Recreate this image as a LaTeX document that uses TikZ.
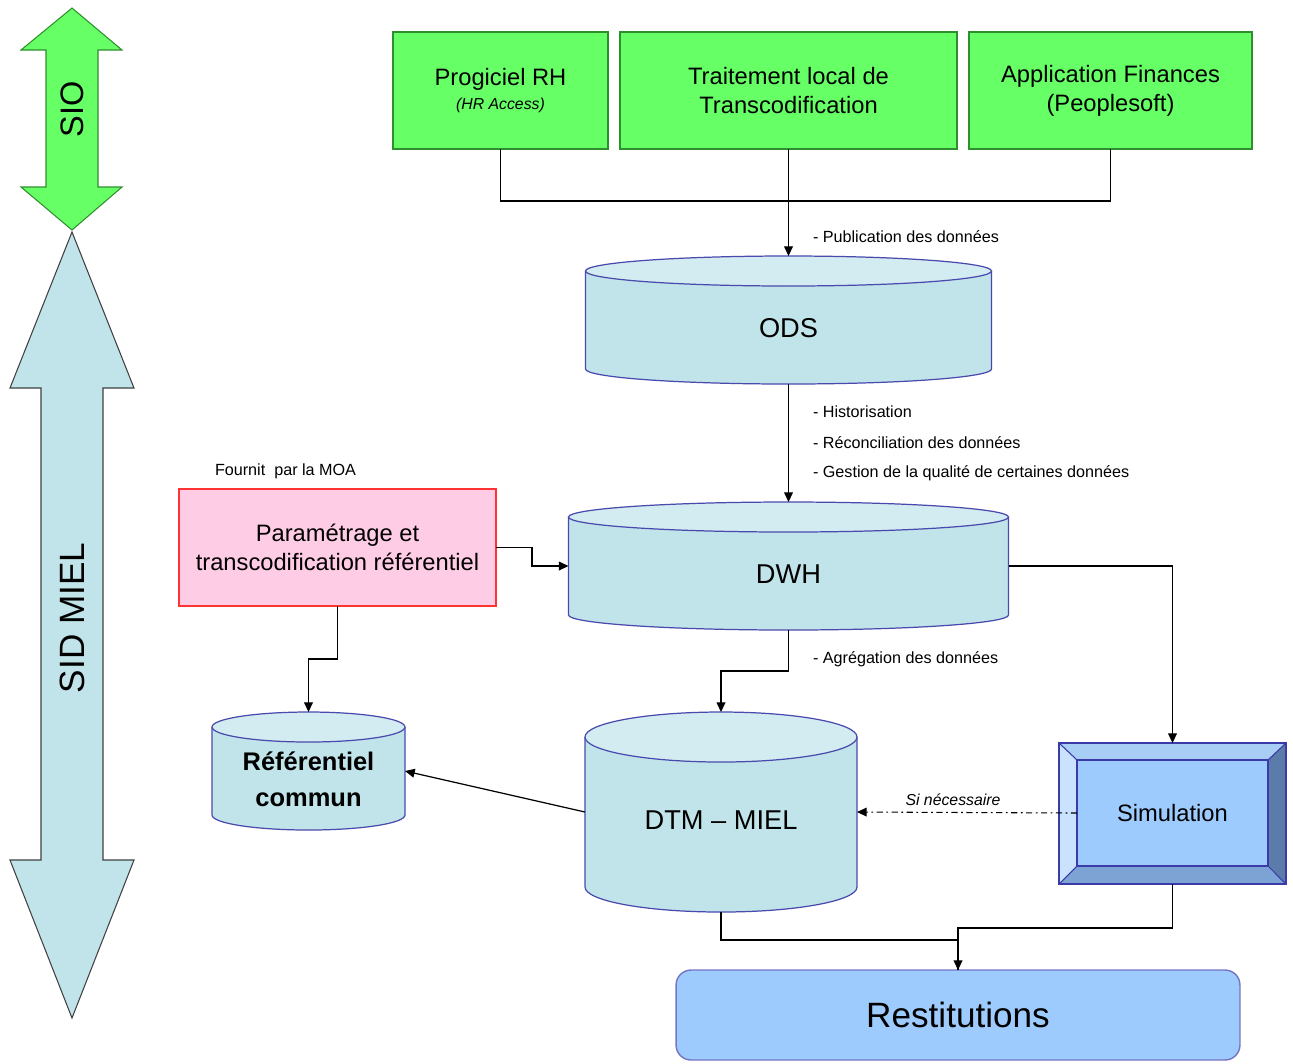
\documentclass[tikz,border=0pt]{standalone}
\usepackage{fontspec}
\setmainfont{Liberation Sans}
\usetikzlibrary{arrows.meta}

\definecolor{srcgreen}{HTML}{66FF66}
\definecolor{srcline}{HTML}{2F8F2F}
\definecolor{cylbody}{HTML}{C0E4EA}
\definecolor{cyltop}{HTML}{D3ECF1}
\definecolor{cylblue}{HTML}{4A4AAE}
\definecolor{parampink}{HTML}{FFCCE6}
\definecolor{paramred}{HTML}{FF3333}
\definecolor{simface}{HTML}{9DCBFD}
\definecolor{simtop}{HTML}{A9CEF6}
\definecolor{simleft}{HTML}{C9E3FF}
\definecolor{simright}{HTML}{5B7BAB}
\definecolor{simbottom}{HTML}{7DA3D5}
\definecolor{simline}{HTML}{3A3AA8}
\definecolor{restfill}{HTML}{9DCBFD}
\definecolor{restline}{HTML}{7474C4}

% database cylinder: name, centre x, top, bottom, half width, ry, text
\newcommand{\dbcyl}[7]{%
  \fill[cylbody] (#2-#5,#3+#6) -- (#2-#5,#4-#6)
    arc [start angle=180, end angle=0, x radius=#5, y radius=#6] -- (#2+#5,#3+#6) -- cycle;
  \draw[cylblue, line width=0.7pt] (#2-#5,#3+#6) -- (#2-#5,#4-#6)
    arc [start angle=180, end angle=0, x radius=#5, y radius=#6] -- (#2+#5,#3+#6);
  \draw[cylblue, line width=0.7pt, fill=cyltop] (#2,#3+#6) ellipse [x radius=#5, y radius=#6];
  \node[inner sep=0, outer sep=0, minimum width={2*#5*0.02cm},
    minimum height={(#4-#3)*0.02cm}] (#1) at (#2,{(#3+#4)/2}) {};
  \node[align=center] (#1 label) at ([yshift=-0.16cm]#1.center) {#7};
}

\begin{document}
\begin{tikzpicture}[x=0.02cm, y=-0.02cm,
    every node/.style={outer sep=0pt},
    link/.style={line width=0.7pt, -{Triangle[length=5.5pt,width=5pt]}},
    plain/.style={line width=0.7pt},
    source/.style={draw=srcline, line width=0.8pt, fill=srcgreen, minimum height=2.34cm,
      align=center, font=\fontsize{13.5}{16.5}\selectfont},
    note/.style={anchor=west, inner sep=0pt, font=\fontsize{9.2}{11}\selectfont}]
\useasboundingbox (0,0) rectangle (1293,1063);

% side arrows
\draw[draw=srcline, fill=srcgreen, line width=0.6pt]
  (72,8) -- (122,50) -- (98,50) -- (98,187) -- (122,187) -- (72,230)
  -- (21,187) -- (46,187) -- (46,50) -- (21,50) -- cycle;
\node[rotate=90, font=\fontsize{18.5}{20}\selectfont] (sio) at (72,109) {SIO};
\draw[draw=black!75, fill=cylbody, line width=0.6pt]
  (72,232) -- (134,388) -- (103,388) -- (103,860) -- (134,860) -- (72,1018)
  -- (10,860) -- (41,860) -- (41,388) -- (10,388) -- cycle;
\node[rotate=90, font=\fontsize{20}{22}\selectfont] (sidmiel) at (72,618) {SID MIEL};

% sources
\node[source, minimum width=4.30cm] (progiciel) at (500.5,90.5)
  {Progiciel RH\\[-3pt]{\fontsize{9}{10}\selectfont\itshape (HR Access)}};
\node[source, minimum width=6.74cm] (traitement) at (788.5,90.5)
  {Traitement local de\\Transcodification};
\node[source, minimum width=5.66cm] (finances) at (1110.5,90.5)
  {Application Finances\\(Peoplesoft)};

% databases
\begin{scope}[font=\fontsize{15.5}{18}\selectfont]
\dbcyl{ods}{788.5}{256}{384}{203}{15}{ODS}
\dbcyl{dwh}{788.5}{502}{630}{220}{15}{DWH}
\dbcyl{dtm}{721}{712}{912}{136}{25}{DTM -- MIEL}
\end{scope}
\begin{scope}[font=\fontsize{14.5}{20.5}\selectfont\bfseries]
\dbcyl{referentiel}{308.5}{712}{830}{96.5}{15}{Référentiel\\commun}
\end{scope}

\node[draw=paramred, line width=1pt, fill=parampink, minimum width=6.34cm, minimum height=2.34cm,
  align=center, font=\fontsize{13.5}{16.5}\selectfont] (param) at (337.5,547.5)
  {Paramétrage et\\transcodification référentiel};
\node[note] (moa) at (215,471) {Fournit~~par la MOA};

% simulation (bevelled box)
\node[draw=simline, line width=0.8pt, minimum width=4.54cm, minimum height=2.82cm] (simulation) at (1172.5,813.5) {};
\fill[simtop] (simulation.north west) -- (simulation.north east) -- (1268,760) -- (1077,760) -- cycle;
\fill[simleft] (simulation.north west) -- (1077,760) -- (1077,866) -- (simulation.south west) -- cycle;
\fill[simright] (simulation.north east) -- (1268,760) -- (1268,866) -- (simulation.south east) -- cycle;
\fill[simbottom] (simulation.south west) -- (1077,866) -- (1268,866) -- (simulation.south east) -- cycle;
\draw[simline, line width=0.6pt] (simulation.north west) -- (1077,760) (simulation.north east) -- (1268,760)
  (simulation.south west) -- (1077,866) (simulation.south east) -- (1268,866);
\draw[simline, line width=0.8pt] (simulation.north west) rectangle (simulation.south east);
\node[draw=simline, line width=0.8pt, fill=simface, minimum width=3.82cm, minimum height=2.12cm,
  font=\fontsize{13.5}{16}\selectfont] (siminner) at (1172.5,813) {Simulation};

\node[draw=restline, line width=0.8pt, fill=restfill, rounded corners=0.3cm, minimum width=11.28cm,
  minimum height=1.8cm, font=\fontsize{20}{24}\selectfont] (restitutions) at (958,1015) {Restitutions};

% flows
\coordinate (merge) at (788.5,201);
\draw[plain] (progiciel.south) |- (merge) -| (finances.south);
\draw[link] (traitement.south) -- (ods.north);
\node[note] (publi) at (813,237) {- Publication des données};
\draw[link] (ods.south) -- (dwh.north);
\node[note] (histo) at (813,412) {- Historisation};
\node[note] (recon) at (813,443) {- Réconciliation des données};
\node[note] (qualite) at (813,473) {- Gestion de la qualité de certaines données};
\draw[link] (param.east) -- ++(36,0) |- (dwh.west);
\draw[link] (param.south) -- ++(0,53) -| (referentiel.north);
\draw[link] (dwh.south) -- ++(0,41) -| (dtm.north);
\node[note] (agreg) at (813,659) {- Agrégation des données};
\draw[link] (dtm.west) -- (referentiel.east);
\draw[link] (dwh.east) -| (simulation.north);
\draw[link, dash pattern=on 3.5pt off 2pt on 1pt off 2pt, line width=0.6pt] (siminner.west) -- (dtm.east);
\node[font=\fontsize{9}{11}\selectfont\itshape] (sinecess) at (953,800) {Si nécessaire};
\draw[link] (simulation.south) -- ++(0,44) -| (restitutions.north);
\draw[plain] (dtm.south) -- ++(0,28) -| (restitutions.north);
\end{tikzpicture}
\end{document}
